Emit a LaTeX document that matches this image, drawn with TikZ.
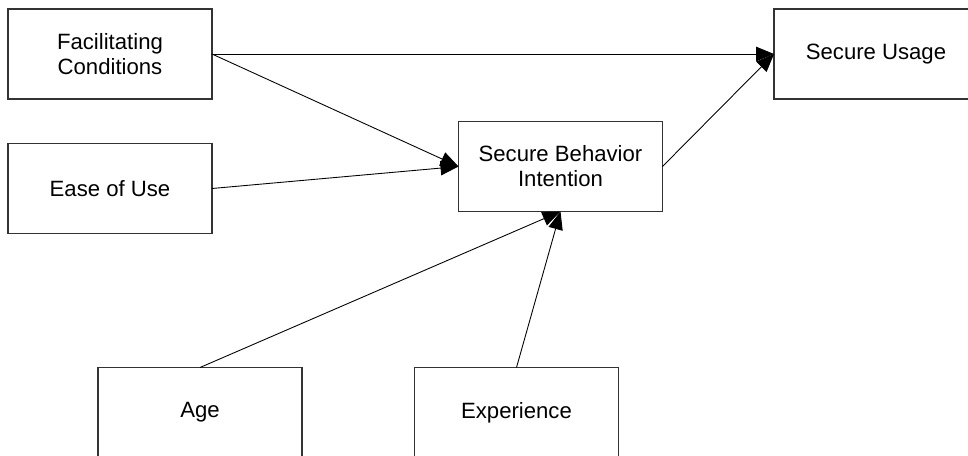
\documentclass[tikz,border=0pt]{standalone}
\usepackage{fontspec}
\setmainfont{Liberation Sans}
\usetikzlibrary{arrows.meta}

\begin{document}
\begin{tikzpicture}[x=0.02cm, y=-0.02cm,
    box/.style={draw=black!80, line width=0.6pt, fill=white, minimum width=4.08cm,
        minimum height=1.8cm, align=center, outer sep=0pt,
        font=\fontsize{12.6}{14.2}\selectfont},
    arr/.style={-{Triangle[length=0.36cm, width=0.29cm]}, line width=0.5pt}]

    \useasboundingbox (0,0) rectangle (968,456);

    \node[box] (facil) at (110,54) {Facilitating\\Conditions};
    \node[box] (ease) at (110,188.5) {Ease of Use};
    \node[box] (intent) at (560.5,166.5) {Secure Behavior\\Intention};
    \node[box] (usage) at (876,54) {Secure Usage};
    \node[box] (age) at (200,412.5) {Age};
    \node[box] (exper) at (516.5,412.5) {Experience};

    \draw[arr] (facil.east) -- (usage.west);
    \draw[arr] (facil.east) -- (intent.west);
    \draw[arr] (ease.east) -- (intent.west);
    \draw[arr] (intent.east) -- (usage.west);

    % moderators
    \draw[arr] (age.north) -- (intent.south);
    \draw[arr] (exper.north) -- (intent.south);

\end{tikzpicture}
\end{document}
